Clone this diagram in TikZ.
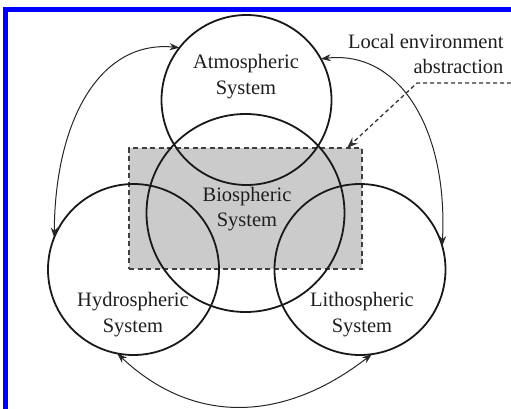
\documentclass[tikz,border=0pt]{standalone}
\usepackage{fontspec}
\setmainfont{Liberation Serif}
\usetikzlibrary{arrows.meta,calc}
\definecolor{inkgray}{HTML}{1E1E1E}
\definecolor{boxgray}{HTML}{CBCBCB}
\definecolor{framblue}{HTML}{0000FF}
\begin{document}
\begin{tikzpicture}[x=1pt,y=-1pt,
  sphere/.style={circle,draw=black!90,line width=1.8pt,minimum size=#1,inner sep=0pt,outer sep=0pt},
  caption/.style={text=inkgray,align=center,font=\fontsize{20.5}{25.5}\selectfont},
  link/.style={draw=black!85,line width=1pt,{Stealth[length=10pt,width=7pt]}-{Stealth[length=10pt,width=7pt]}},
  callout/.style={draw=black!80,line width=1.3pt,dash pattern=on 4pt off 3pt,-{Stealth[length=11pt,width=8pt]}}
]
\useasboundingbox (0,0) rectangle (511,409);
% frame
\draw[framblue,line width=5pt] (5.5,409) -- (5.5,9.5) -- (511,9.5);

% local environment box
\node[draw=black!75,fill=boxgray,line width=1.6pt,dash pattern=on 5pt off 3.5pt,
      minimum width=233pt,minimum height=121pt,inner sep=0pt,outer sep=0pt]
      (env) at (245.5,208.5) {};

% the four spheres
\node[sphere=170pt] (atm) at (246.5,100) {};
\node[sphere=198pt] (bio) at (245.5,213) {};
\node[sphere=171pt] (hyd) at (133.5,269.5) {};
\node[sphere=171pt] (lit) at (360,269.5) {};

% labels
\node[caption] (atmtext) at (246,76.5) {Atmospheric\\System};
\node[caption] (biotext) at (247,209) {Biospheric\\System};
\node[caption] (hydtext) at (133,314.5) {Hydrospheric\\System};
\node[caption] (littext) at (362,314.5) {Lithospheric\\System};
\node[caption,align=right,anchor=east] (envtext) at (507,54) {Local environment\\abstraction};

% interactions between spheres
\draw[link] (atm.142) .. controls (100,40) and (55,120) .. (hyd.158);
\draw[link] (atm.29.7) .. controls (400,50) and (448,130) .. (lit.16);
\draw[link] (hyd.-101) .. controls (192,424) and (282,424) .. (lit.-82);

% callout to the box
\coordinate (calloutend) at (511,83);
\coordinate (calloutbend) at (417,83);
\draw[callout] (calloutend) -- (calloutbend) -- ($(env.north east)+(-15,0)$);
\end{tikzpicture}
\end{document}
